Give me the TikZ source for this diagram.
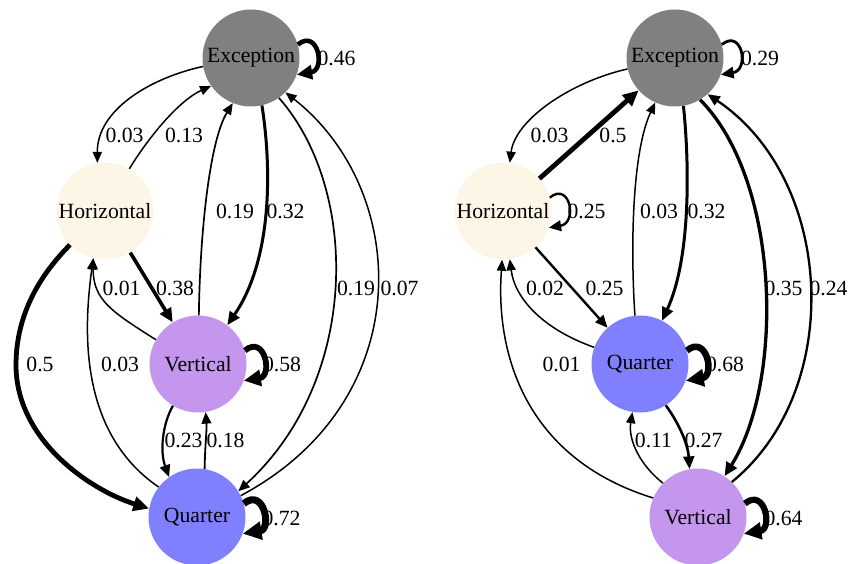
\documentclass[tikz,border=0pt]{standalone}
\usepackage{fontspec}
\setmainfont{Liberation Serif}
\usetikzlibrary{arrows.meta}
\definecolor{exc}{RGB}{128,128,128}
\definecolor{hor}{RGB}{253,245,230}
\definecolor{ver}{RGB}{196,150,237}
\definecolor{qua}{RGB}{128,128,255}
\begin{document}
\begin{tikzpicture}[x=1pt,y=-1pt,
  st/.style={circle,minimum size=97pt,inner sep=0pt,font=\fontsize{21.7}{26}\selectfont},
  lbl/.style={inner sep=0pt,font=\fontsize{21.7}{26}\selectfont},
  ed/.style={line width=#1pt,-{Triangle[length=9pt 1.4,width=7pt 1.5]}}]
\useasboundingbox (0,0) rectangle (860,564);
% left graph nodes
\node[st,fill=exc] (ex) at (251,58) {Exception};
\node[st,fill=hor] (ho) at (105,211) {Horizontal};
\node[st,fill=ver] (ve) at (198,364) {Vertical};
\node[st,fill=qua] (qu) at (197,517) {Quarter};
% right graph nodes
\node[st,fill=exc] (rex) at (675,58) {Exception};
\node[st,fill=hor] (rho) at (503,211) {Horizontal};
\node[st,fill=qua] (rqu) at (640,364) {Quarter};
\node[st,fill=ver] (rve) at (698,517) {Vertical};

% left edges
\draw[ed=1.5] (ex.190) .. controls (150,78) and (97,110) .. (ho.99);
\draw[ed=1.5] (ho.60) .. controls (150,135) and (180,100) .. (ex.215);
\draw[ed=1.7] (ve.89) .. controls (200,230) and (210,140) .. (ex.248);
\draw[ed=3] (ex.283) .. controls (272,170) and (272,260) .. (ve.53);
\draw[ed=1.7] (ex.305) .. controls (360,190) and (360,380) .. (qu.32);
\draw[ed=1.5] (qu.26) .. controls (420,400) and (410,190) .. (ex.315);
\draw[ed=3.6] (ho) -- (ve);
\draw[ed=1.5] (ve.150) .. controls (112,312) and (93,300) .. (ho.256);
\draw[ed=4.8] (ho.224) .. controls (35,280) and (16,320) .. (16,365) .. controls (16,440) and (90,490) .. (qu.170);
\draw[ed=1.5] (qu.142) .. controls (75,430) and (85,320) .. (ho.256);
\draw[ed=2.2] (ve.239) .. controls (162,425) and (160,452) .. (qu.125);
\draw[ed=1.8] (qu.81) .. controls (205,445) and (207,430) .. (ve.279);
\draw[ed=4.6] (ex.16) .. controls (318,28) and (326,70) .. (ex.-20);
\draw[ed=5.8] (ve.16) .. controls (265,334) and (273,376) .. (ve.-20);
\draw[ed=7] (qu.16) .. controls (264,487) and (272,529) .. (qu.-20);

% left labels
\node[lbl] (l1) at (124.5,135) {0.03};
\node[lbl] (l2) at (184,135) {0.13};
\node[lbl] (l3) at (336.5,58) {0.46};
\node[lbl] (l4) at (235,211) {0.19};
\node[lbl] (l5) at (285.5,211) {0.32};
\node[lbl] (l6) at (121.5,288) {0.01};
\node[lbl] (l7) at (175,288) {0.38};
\node[lbl] (l8) at (356,288) {0.19};
\node[lbl] (l9) at (399.5,288) {0.07};
\node[lbl] (l10) at (40,364) {0.5};
\node[lbl] (l11) at (120,364) {0.03};
\node[lbl] (l12) at (282,364) {0.58};
\node[lbl] (l13) at (183.5,440) {0.23};
\node[lbl] (l14) at (225.5,440) {0.18};
\node[lbl] (l15) at (281.5,518) {0.72};

% right edges
\draw[ed=1.5] (rex.193) .. controls (570,82) and (515,120) .. (rho.82);
\draw[ed=4.8] (rho) -- (rex);
\draw[ed=2.8] (rex.16) .. controls (742,28) and (750,70) .. (rex.-20);
\draw[ed=2.4] (rho.16) .. controls (570,181) and (578,223) .. (rho.-20);
\draw[ed=1.5] (rqu.96) .. controls (630,240) and (633,150) .. (rex.246);
\draw[ed=3] (rex.280) .. controls (690,170) and (690,260) .. (rqu.63);
\draw[ed=3.3] (rex.301) .. controls (780,180) and (785,380) .. (rve.57);
\draw[ed=2.3] (rve.46) .. controls (845,390) and (835,180) .. (rex.312);
\draw[ed=2.4] (rho) -- (rqu);
\draw[ed=1.5] (rqu.160) .. controls (545,330) and (515,300) .. (rho.278);
\draw[ed=1.5] (rve.157) .. controls (530,460) and (495,360) .. (rho.269);
\draw[ed=2.6] (rqu.302) .. controls (680,425) and (688,445) .. (rve.100);
\draw[ed=1.5] (rve.136) .. controls (640,465) and (628,440) .. (rqu.261);
\draw[ed=6.5] (rqu.16) .. controls (707,334) and (715,376) .. (rqu.-20);
\draw[ed=6.2] (rve.16) .. controls (765,487) and (773,529) .. (rve.-20);

% right labels
\node[lbl] (r1) at (549.5,135) {0.03};
\node[lbl] (r2) at (613,135) {0.5};
\node[lbl] (r3) at (760,58) {0.29};
\node[lbl] (r4) at (586.5,211) {0.25};
\node[lbl] (r5) at (659,211) {0.03};
\node[lbl] (r6) at (706.5,211) {0.32};
\node[lbl] (r7) at (545,288) {0.02};
\node[lbl] (r8) at (604.5,288) {0.25};
\node[lbl] (r9) at (783.5,288) {0.35};
\node[lbl] (r10) at (828.5,288) {0.24};
\node[lbl] (r11) at (561.5,364) {0.01};
\node[lbl] (r12) at (725,364) {0.68};
\node[lbl] (r13) at (653.5,440) {0.11};
\node[lbl] (r14) at (703.5,440) {0.27};
\node[lbl] (r15) at (783.5,518) {0.64};
\end{tikzpicture}
\end{document}
